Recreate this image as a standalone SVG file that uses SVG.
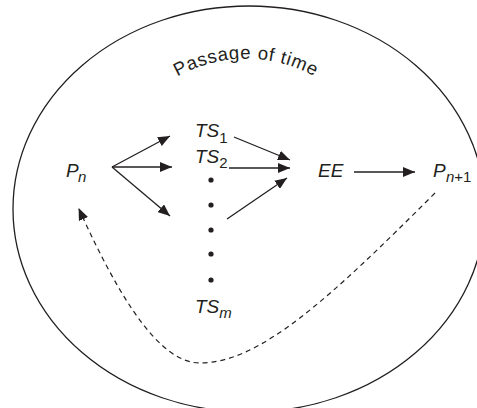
<svg xmlns="http://www.w3.org/2000/svg" width="477" height="408" viewBox="0 0 477 408">
<style>
.lbl{font-family:"Liberation Sans",Arial,sans-serif;font-size:19px;font-style:italic;fill:#231f20}
.sub{font-size:15px}
.up{font-style:normal}
.ln{stroke:#231f20;stroke-width:1.3;fill:none}
.dash{stroke:#231f20;stroke-width:1.2;fill:none;stroke-dasharray:5 4}
.arc{font-family:"Liberation Sans",Arial,sans-serif;font-size:18.5px;fill:#231f20;letter-spacing:0.7px}
</style>
<defs>
<marker id="ah" markerWidth="12" markerHeight="10" refX="12" refY="5" orient="auto" markerUnits="userSpaceOnUse">
<path d="M0,0 L12,5 L0,10 z" fill="#231f20"/>
</marker>
<marker id="ahd" markerWidth="12" markerHeight="10" refX="11" refY="5" orient="auto" markerUnits="userSpaceOnUse">
<path d="M0,0 L12,5 L0,10 z" fill="#231f20"/>
</marker>
<path id="arcp" d="M 160,88 A 141 141 0 0 1 332,88"/>
</defs>
<g id="boundary">
<ellipse cx="249" cy="209" rx="236" ry="203" fill="none" stroke="#231f20" stroke-width="1.3"/>
<text class="arc"><textPath href="#arcp" startOffset="50%" text-anchor="middle">Passage of time</textPath></text>
</g>
<g id="Pn"><text class="lbl" x="66" y="177">P<tspan class="sub" x="78" y="182">n</tspan></text></g>
<g id="TS1"><text class="lbl" x="195" y="137">TS<tspan class="sub up" y="143">1</tspan></text></g>
<g id="TS2"><text class="lbl" x="195" y="163">TS<tspan class="sub up" y="168">2</tspan></text></g>
<g id="dots" fill="#231f20">
<circle cx="211" cy="180" r="2.6"/>
<circle cx="211" cy="205" r="2.6"/>
<circle cx="211" cy="230" r="2.6"/>
<circle cx="211" cy="254" r="2.6"/>
<circle cx="211" cy="280" r="2.6"/>
</g>
<g id="TSm"><text class="lbl" x="195" y="313">TS<tspan class="sub" y="318">m</tspan></text></g>
<g id="EE"><text class="lbl" x="318" y="177">EE</text></g>
<g id="Pn1"><text class="lbl" x="433" y="177">P<tspan class="sub" x="446" y="182">n</tspan><tspan class="sub up" y="182">+1</tspan></text></g>
<g id="connectors">
<line class="ln" x1="112" y1="167" x2="170" y2="136" marker-end="url(#ah)"/>
<line class="ln" x1="112" y1="167" x2="172" y2="167" marker-end="url(#ah)"/>
<line class="ln" x1="112" y1="167" x2="170" y2="216" marker-end="url(#ah)"/>
<line class="ln" x1="234" y1="137" x2="290" y2="160" marker-end="url(#ah)"/>
<line class="ln" x1="229" y1="168" x2="290" y2="168" marker-end="url(#ah)"/>
<line class="ln" x1="227" y1="219" x2="287" y2="178" marker-end="url(#ah)"/>
<line class="ln" x1="354" y1="172" x2="415" y2="172" marker-end="url(#ah)"/>
<path class="dash" d="M 435,193 C 330,298 260,363 200,363 C 160,363 120,300 79,209" marker-end="url(#ahd)"/>
</g>
</svg>
